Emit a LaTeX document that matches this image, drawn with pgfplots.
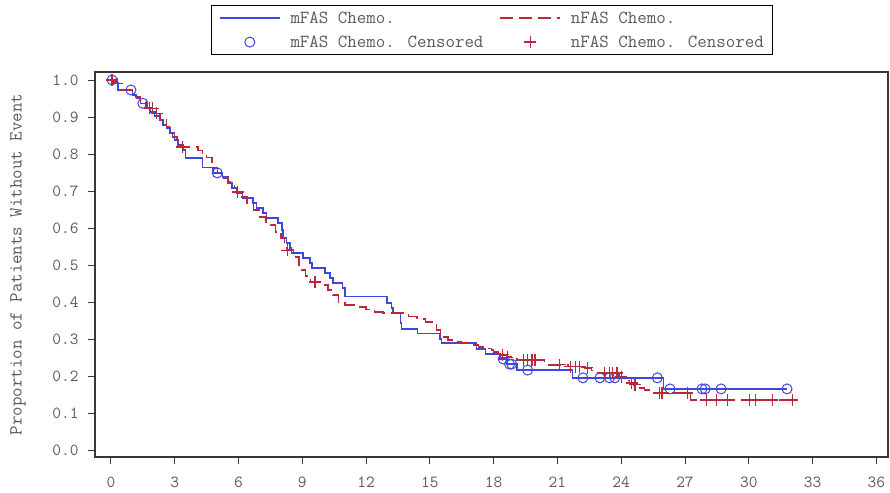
\documentclass[border=0pt]{standalone}
\usepackage{pgfplots}
\pgfplotsset{compat=1.18}
\definecolor{kmblue}{RGB}{62,72,222}
\definecolor{kmred}{RGB}{185,40,60}
\definecolor{txtgray}{RGB}{90,90,90}
\definecolor{framegray}{RGB}{55,55,55}

\begin{document}
\begin{tikzpicture}
\useasboundingbox (-95bp,-36bp) rectangle (795bp,457bp);
\begin{axis}[
    scale only axis,
    width=793bp, height=385bp,
    xmin=-0.75, xmax=36.55,
    ymin=-0.019, ymax=1.0216,
    xtick={0,3,6,9,12,15,18,21,24,27,30,33,36},
    ytick={0,0.1,0.2,0.3,0.4,0.5,0.6,0.7,0.8,0.9,1.0},
    tick align=outside, tick pos=left,
    major tick length=7bp,
    tick style={framegray, line width=0.9bp},
    axis line style={framegray, line width=1.3bp},
    /pgf/number format/assume math mode=true,
    tick label style={font=\ttfamily\fontsize{17}{19}\selectfont, text=txtgray},
    xticklabel style={yshift=-9bp},
    yticklabel style={xshift=-6bp, /pgf/number format/.cd, fixed, fixed zerofill, precision=1},
    ylabel={Proportion of Patients Without Event},
    every axis y label/.style={at={([xshift=-77bp]axis description cs:0,0.5)},
        rotate=90, anchor=center, font=\ttfamily\fontsize{18.5}{20}\selectfont, text=txtgray},
    legend columns=2,
    legend cell align=left,
    legend image code/.code={\draw[mark repeat=2,mark phase=2,#1]
        plot coordinates {(0bp,0bp) (30bp,0bp) (60bp,0bp)};},
    legend style={at={(0.5,1)}, anchor=south, yshift=17bp,
        draw=black, line width=0.8bp,
        font=\ttfamily\fontsize{18.5}{20}\selectfont, text=txtgray,
        inner xsep=8bp, inner ysep=6bp,
        nodes={inner sep=0pt},
        row sep=11bp,
        /tikz/every odd column/.append style={column sep=10bp},
        /tikz/every even column/.append style={column sep=16bp}},
]
% mFAS Chemo. (step curve)
\addplot[const plot, kmblue, line width=1.4bp] coordinates {
(0,1.0) (0.1,0.992) (0.33,0.973) (1.0,0.959) (1.2,0.951) (1.4,0.937)
(1.7,0.924) (1.85,0.913) (2.05,0.903) (2.3,0.892) (2.45,0.878) (2.6,0.870)
(2.77,0.857) (3.0,0.838) (3.15,0.824) (3.38,0.811) (3.5,0.789) (4.3,0.763)
(4.8,0.749) (5.25,0.738) (5.5,0.722) (5.7,0.708) (5.92,0.695) (6.2,0.681)
(6.68,0.668) (6.86,0.654) (7.15,0.641) (7.33,0.627) (7.85,0.614) (8.04,0.595)
(8.09,0.573) (8.27,0.559) (8.42,0.546) (8.5,0.532) (9.03,0.519) (9.36,0.505)
(9.45,0.492) (10.06,0.478) (10.3,0.465) (10.44,0.451) (10.9,0.438) (11.0,0.414)
(12.98,0.397) (13.2,0.384) (13.26,0.370) (13.63,0.343) (13.68,0.327) (14.43,0.314)
(15.47,0.300) (15.56,0.289) (17.2,0.273) (17.63,0.259) (18.3,0.246) (18.6,0.232)
(19.1,0.216) (21.7,0.195) (26.0,0.165) (31.8,0.165)
};
\addlegendentry{mFAS Chemo.}
% nFAS Chemo. (step curve)
\addplot[const plot, kmred, line width=1.4bp, dash pattern=on 13bp off 6bp] coordinates {
(0,1.0) (0.2,0.99) (0.45,0.973) (1.15,0.954) (1.4,0.94) (1.65,0.924)
(2.1,0.91) (2.3,0.892) (2.6,0.873) (2.75,0.86) (2.9,0.846) (3.1,0.832)
(3.25,0.819) (4.1,0.81) (4.3,0.80) (4.5,0.79) (4.75,0.772) (4.85,0.762)
(5.0,0.748) (5.3,0.735) (5.5,0.724) (5.8,0.71) (5.9,0.697) (6.1,0.684)
(6.4,0.668) (6.7,0.649) (7.0,0.63) (7.3,0.616) (7.5,0.608) (7.75,0.589)
(8.0,0.573) (8.15,0.556) (8.25,0.54) (8.6,0.522) (8.85,0.5) (8.95,0.486)
(9.15,0.47) (9.4,0.454) (10.0,0.446) (10.2,0.432) (10.45,0.419) (10.7,0.40)
(11.0,0.392) (11.6,0.386) (12.0,0.38) (12.4,0.373) (12.8,0.37) (13.75,0.366)
(14.0,0.36) (14.4,0.354) (14.8,0.346) (15.1,0.338) (15.3,0.324) (15.5,0.316)
(15.65,0.305) (15.85,0.297) (16.2,0.292) (16.5,0.289) (17.0,0.284) (17.3,0.278)
(17.6,0.274) (17.9,0.27) (18.0,0.265) (18.2,0.257) (18.6,0.251) (18.85,0.247)
(19.1,0.243) (20.4,0.23) (21.5,0.225) (22.3,0.222) (22.6,0.214) (22.9,0.208)
(23.9,0.197) (24.2,0.188) (24.4,0.181) (24.6,0.176) (24.8,0.168) (25.1,0.162)
(25.4,0.154) (27.25,0.135) (32.1,0.135)
};
\addlegendentry{nFAS Chemo.}
% censored marks
\addplot[only marks, mark=o, mark size=5bp, kmblue, line width=1bp] coordinates {
(0.05,1.0) (0.94,0.973) (1.5,0.937) (5.0,0.749) (18.45,0.246) (18.75,0.232)
(18.85,0.232) (19.6,0.216) (22.2,0.195) (23.0,0.195) (23.45,0.195) (23.7,0.195)
(25.7,0.195) (26.3,0.165) (27.8,0.165) (27.95,0.165) (28.7,0.165) (31.8,0.165)
};
\addlegendentry{mFAS Chemo. Censored}
\addplot[only marks, mark=+, mark size=6bp, kmred, line width=1.2bp] coordinates {
(0.05,1.0) (0.3,0.99) (1.83,0.924) (1.97,0.924) (2.15,0.91) (3.35,0.819)
(5.97,0.697) (8.3,0.54) (9.6,0.454) (18.43,0.257) (18.65,0.251) (19.4,0.243)
(19.6,0.243) (19.8,0.243) (19.95,0.243) (21.1,0.23) (21.6,0.225) (21.85,0.225)
(22.05,0.225) (22.4,0.222) (23.2,0.208) (23.46,0.208) (23.6,0.208) (23.8,0.208)
(24.0,0.197) (24.5,0.181) (24.65,0.176) (25.8,0.154) (25.88,0.154) (25.95,0.154)
(27.1,0.154) (28.0,0.135) (28.5,0.135) (29.0,0.135) (30.05,0.135) (30.3,0.135)
(31.1,0.135) (32.05,0.135)
};
\addlegendentry{nFAS Chemo. Censored}
\end{axis}
\end{tikzpicture}
\end{document}
